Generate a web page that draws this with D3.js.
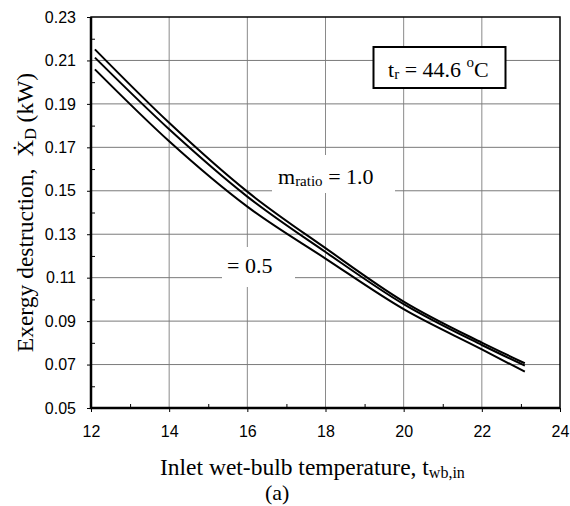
<!DOCTYPE html>
<html>
<head>
<meta charset="utf-8">
<script src="https://cdn.jsdelivr.net/npm/d3@7"></script>
<style>
    body { margin: 0; background: #fff; }
    svg { display: block; }
</style>
</head>
<body>
<svg id="chart" width="570" height="506"></svg>
<script>

// inlet wet-bulb temperature (x) and exergy destruction (kW) for each mass ratio
var t_wb = [12.1, 14, 16, 18, 20, 22, 23.1];
var xd_top = [0.2151, 0.1813, 0.1496, 0.1236, 0.0990, 0.0801, 0.0706];   // m_ratio = 1.0
var xd_mid = [0.2113, 0.1783, 0.1473, 0.1218, 0.0978, 0.0790, 0.0695];
var xd_low = [0.2059, 0.1728, 0.1427, 0.1188, 0.0955, 0.0770, 0.0667];   // = 0.5

var x_major = [12, 14, 16, 18, 20, 22, 24];
var x_minor = [13, 15, 17, 19, 21, 23];
var y_major = [0.05, 0.07, 0.09, 0.11, 0.13, 0.15, 0.17, 0.19, 0.21, 0.23];
var y_minor = [0.06, 0.08, 0.10, 0.12, 0.14, 0.16, 0.18, 0.20, 0.22];

// plot box (window.top is reserved, hence the p_ names)
var p_left = 91, p_right = 560, p_top = 17, p_bottom = 408;
var serif = "'Liberation Serif', 'Times New Roman', serif";
var sans = "'Liberation Sans', Arial, sans-serif";

var svg = d3.select("#chart");

var x = d3.scaleLinear().domain([12, 24]).range([p_left, p_right]);
var y = d3.scaleLinear().domain([0.05, 0.23]).range([p_bottom, p_top]);

// grid
svg.append("g").selectAll("line")
    .data(x_major.slice(1, -1))
    .enter().append("line")
    .attr("x1", function(d) { return x(d); })
    .attr("x2", function(d) { return x(d); })
    .attr("y1", p_top).attr("y2", p_bottom)
    .attr("stroke", "#8a8a8a").attr("stroke-width", 1);

svg.append("g").selectAll("line")
    .data(y_major.slice(1, -1))
    .enter().append("line")
    .attr("y1", function(d) { return y(d); })
    .attr("y2", function(d) { return y(d); })
    .attr("x1", p_left).attr("x2", p_right)
    .attr("stroke", "#7a7a7a").attr("stroke-width", 1);

// white patches behind the curve labels
svg.append("rect").attr("x", 272).attr("y", 155).attr("width", 123).attr("height", 38).attr("fill", "#fff");
svg.append("rect").attr("x", 222).attr("y", 247).attr("width", 73).attr("height", 40).attr("fill", "#fff");

// curves
var line = d3.line()
    .x(function(d) { return x(d[0]); })
    .y(function(d) { return y(d[1]); })
    .curve(d3.curveMonotoneX);

[xd_top, xd_mid, xd_low].forEach(function(series) {
    svg.append("path")
        .datum(d3.zip(t_wb, series))
        .attr("d", line)
        .attr("fill", "none")
        .attr("stroke", "#000")
        .attr("stroke-width", 2);
});

// axes
var xAxis = svg.append("g").attr("transform", "translate(0," + p_bottom + ")")
    .call(d3.axisBottom(x).tickValues(x_major).tickSize(4).tickPadding(14).tickFormat(d3.format("d")));
var xMinor = svg.append("g").attr("transform", "translate(0," + p_bottom + ")")
    .call(d3.axisBottom(x).tickValues(x_minor).tickSize(-4).tickFormat(""));
var yAxis = svg.append("g").attr("transform", "translate(" + p_left + ",0)")
    .call(d3.axisLeft(y).tickValues(y_major).tickSize(4).tickPadding(11).tickFormat(d3.format(".2f")));
var yMinor = svg.append("g").attr("transform", "translate(" + p_left + ",0)")
    .call(d3.axisLeft(y).tickValues(y_minor).tickSize(-4).tickFormat(""));

[xAxis, xMinor, yAxis, yMinor].forEach(function(g) {
    g.select(".domain").remove();
    g.selectAll(".tick line").attr("stroke", "#000").attr("stroke-width", 1);
    g.selectAll("text").attr("fill", "#000").style("font-family", sans).style("font-size", "16px");
});

// frame
svg.append("rect")
    .attr("x", p_left).attr("y", p_top)
    .attr("width", p_right - p_left).attr("height", p_bottom - p_top)
    .attr("fill", "none").attr("stroke", "#000").attr("stroke-width", 1.5);
svg.append("path")
    .attr("d", "M" + p_left + "," + p_top + "V" + p_bottom + "H" + p_right)
    .attr("fill", "none").attr("stroke", "#000").attr("stroke-width", 2.5);

// t_r box
svg.append("rect").attr("x", 373.5).attr("y", 47).attr("width", 132).attr("height", 41)
    .attr("fill", "#fff").attr("stroke", "#000").attr("stroke-width", 2);
var tr = svg.append("text").attr("x", 388).attr("y", 77)
    .style("font-family", serif).style("font-size", "22px").attr("fill", "#000");
tr.append("tspan").text("t");
tr.append("tspan").attr("dy", 2).style("font-size", "15px").text("r");
tr.append("tspan").attr("dy", -2).text(" = 44.6 ");
tr.append("tspan").attr("dy", -10).style("font-size", "15px").text("o");
tr.append("tspan").attr("dy", 10).text("C");

// curve labels
var m1 = svg.append("text").attr("x", 278).attr("y", 184)
    .style("font-family", serif).style("font-size", "22px").attr("fill", "#000");
m1.append("tspan").text("m");
m1.append("tspan").attr("dy", 2).style("font-size", "15px").text("ratio");
m1.append("tspan").attr("dy", -2).text(" = 1.0");

svg.append("text").attr("x", 227).attr("y", 273)
    .style("font-family", serif).style("font-size", "22px").attr("fill", "#000")
    .text("= 0.5");

// axis titles
var xt = svg.append("text").attr("x", 160).attr("y", 475)
    .style("font-family", serif).style("font-size", "23.5px").attr("fill", "#000");
xt.append("tspan").text("Inlet wet-bulb temperature, t");
xt.append("tspan").attr("dy", 3).style("font-size", "16px").text("wb,in");

var yt = svg.append("text")
    .attr("transform", "translate(33," + ((p_top + p_bottom) / 2) + ") rotate(-90)")
    .attr("text-anchor", "middle")
    .style("font-family", serif).style("font-size", "23.5px").style("white-space", "pre")
    .attr("fill", "#000");
yt.append("tspan").text("Exergy destruction,  \u1E8A");
yt.append("tspan").attr("dy", 3).style("font-size", "16px").text("D");
yt.append("tspan").attr("dy", -3).text(" (kW)");

svg.append("text").attr("x", 265).attr("y", 500)
    .style("font-family", serif).style("font-size", "22px").attr("fill", "#000")
    .text("(a)");

</script>
</body>
</html>
